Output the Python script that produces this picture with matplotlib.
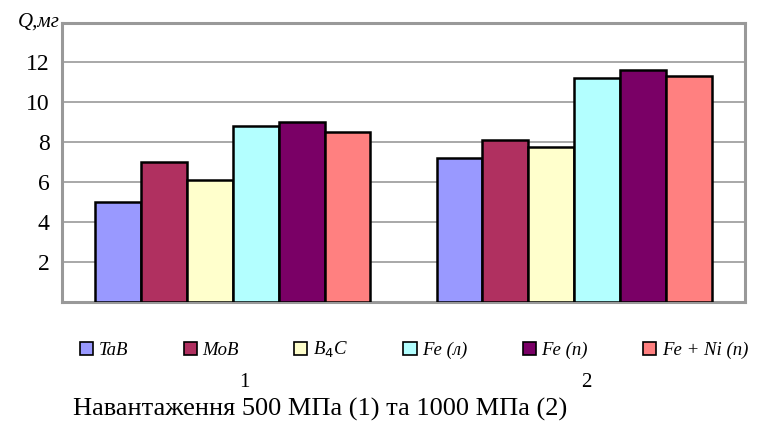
import numpy as np
import matplotlib
matplotlib.use("Agg")
import matplotlib.pyplot as plt
from matplotlib.transforms import ScaledTranslation

plt.rcParams['font.family'] = ['Liberation Serif', 'DejaVu Serif']

groups = ['1', '2']
materials = ['TaB', 'MoB', 'B$_4$C', 'Fe (л)', 'Fe (п)', 'Fe + Ni (п)']
tab = [5.0, 7.2]
mob = [7.0, 8.1]
b4c = [6.1, 7.75]
fe_l = [8.8, 11.2]
fe_p = [9.0, 11.6]
fe_ni = [8.5, 11.3]
series = [tab, mob, b4c, fe_l, fe_p, fe_ni]
colors = ['#9999FF', '#B03060', '#FFFFCC', '#B3FFFF', '#7A0066', '#FF8080']

fig = plt.figure(figsize=(7.74, 4.25), dpi=100)
ax = fig.add_axes([0.0801, 0.2894, 0.8824, 0.6576])

x = np.arange(len(groups))
w = 0.1344
for i, (vals, c, lab) in enumerate(zip(series, colors, materials)):
    ax.bar(x + (i - 2.5) * w, vals, w, color=c, edgecolor='black',
           linewidth=1.8, label=lab, zorder=3)

ax.set_xlim(-0.5, 1.5)
ax.set_ylim(0, 14)
ax.set_yticks([2, 4, 6, 8, 10, 12])
ax.yaxis.grid(True, color='#999999', linewidth=1.2, zorder=0)
for s in ax.spines.values():
    s.set_color('#999999')
    s.set_linewidth(2.2)
ax.tick_params(axis='y', length=0, pad=9, labelsize=17)
ax.set_xticks(x)
ax.set_xticklabels(groups)
ax.tick_params(axis='x', length=0, pad=51, labelsize=15)
for lbl in ax.get_xticklabels():
    lbl.set_transform(lbl.get_transform() + ScaledTranslation(0.12, 0, fig.dpi_scale_trans))

ax.text(-0.003, 1.0, 'Q,мг', transform=ax.transAxes, ha='right', va='center',
        fontsize=15, fontstyle='italic')

leg = ax.legend(loc='center left', bbox_to_anchor=(80 / 774, 1 - 350 / 425),
                bbox_transform=fig.transFigure, ncol=6, frameon=False,
                handlelength=0.7, handleheight=0.7, handletextpad=0.3,
                columnspacing=2.95, borderaxespad=0, borderpad=0,
                prop={'style': 'italic', 'size': 13.5})
for h in leg.legend_handles:
    h.set_linewidth(1.2)

fig.text(73 / 774, 1 - 409 / 425, 'Навантаження 500 МПа (1) та 1000 МПа (2)',
         ha='left', va='center', fontsize=19)

fig.savefig('out.png', dpi=100)
